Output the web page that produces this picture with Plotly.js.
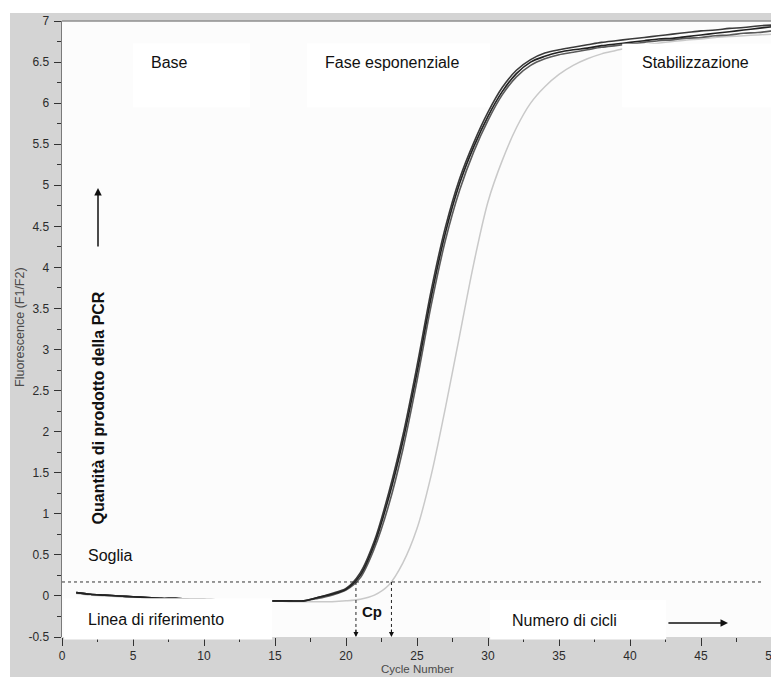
<!DOCTYPE html>
<html>
<head>
<meta charset="utf-8">
<script src="https://cdn.plot.ly/plotly-3.0.1.min.js"></script>
<style>
  html, body { margin: 0; padding: 0; background: #ffffff; overflow: hidden; width: 771px; height: 677px; }
  #chart { position: absolute; left: 10px; top: 13px; width: 780px; height: 664px; }
</style>
</head>
<body>
<div id="chart"></div>
<script>
// Real-time PCR amplification curves: fluorescence (F1/F2) per cycle
const cycles = [1,2,3,4,5,6,7,8,9,10,11,12,13,14,15,16,17,18,19,20,21,22,23,24,25,
                26,27,28,29,30,31,32,33,34,35,36,37,38,39,40,41,42,43,44,45,46,47,48,49,50];

// Early sample (three replicates, dark curves)
const sampleA = [0.04,0.02,0.01,0.00,-0.01,-0.02,-0.03,-0.03,-0.04,-0.04,-0.05,-0.05,-0.05,-0.06,-0.06,-0.06,-0.06,-0.02,0.02,0.08,
                 0.25,0.63,1.19,1.88,2.72,3.64,4.42,5.02,5.47,5.84,6.14,6.36,6.50,6.57,6.62,6.65,6.67,6.70,6.72,6.74,
                 6.76,6.78,6.79,6.81,6.83,6.85,6.87,6.89,6.91,6.93];
const sampleB = [0.04,0.02,0.01,0.00,-0.01,-0.02,-0.03,-0.03,-0.04,-0.04,-0.05,-0.05,-0.05,-0.06,-0.06,-0.06,-0.06,-0.03,0.01,0.07,
                 0.22,0.58,1.10,1.78,2.62,3.54,4.33,4.94,5.41,5.79,6.10,6.32,6.46,6.54,6.59,6.62,6.65,6.68,6.70,6.72,
                 6.74,6.76,6.77,6.79,6.80,6.82,6.83,6.85,6.86,6.88];
const sampleC = [0.04,0.02,0.01,0.00,-0.01,-0.02,-0.03,-0.03,-0.04,-0.04,-0.05,-0.05,-0.05,-0.06,-0.06,-0.06,-0.06,-0.02,0.03,0.09,
                 0.28,0.67,1.25,1.95,2.80,3.72,4.49,5.08,5.52,5.89,6.19,6.40,6.53,6.61,6.65,6.68,6.71,6.74,6.76,6.78,
                 6.80,6.82,6.84,6.86,6.88,6.89,6.91,6.92,6.94,6.95];
// Later sample (light curve)
const sampleLate = [0.03,0.01,0.00,-0.01,-0.02,-0.03,-0.03,-0.04,-0.04,-0.05,-0.05,-0.05,-0.06,-0.06,-0.06,-0.07,-0.07,-0.07,-0.07,-0.06,
                    -0.04,0.01,0.13,0.40,0.82,1.47,2.29,3.17,4.05,4.80,5.30,5.70,6.00,6.20,6.35,6.46,6.54,6.60,6.64,6.68,
                    6.71,6.73,6.75,6.77,6.78,6.80,6.81,6.82,6.83,6.84];

// Detection threshold and crossing points (Cp)
const threshold = 0.17;
const thresholdEnd = 49.4;
const cpCycles = [20.7, 23.2];

const xTickVals = [0,5,10,15,20,25,30,35,40,45,50];
const xTickText = ['0','5','10','15','20','25','30','35','40','45','50'];
const yTickVals = [-0.5,0,0.5,1,1.5,2,2.5,3,3.5,4,4.5,5,5.5,6,6.5,7];
const yTickText = ['-0.5','0','0.5','1','1.5','2','2.5','3','3.5','4','4.5','5','5.5','6','6.5','7'];

const FONT = 'Liberation Sans, Arial, Helvetica, sans-serif';

function curve(y, color, width) {
  return {
    x: cycles, y: y, type: 'scatter', mode: 'lines',
    line: { color: color, width: width, shape: 'spline', smoothing: 0.9 },
    hoverinfo: 'skip', showlegend: false
  };
}

const traces = [
  curve(sampleLate, '#c9c9c9', 1.5),
  curve(sampleB, '#5a5a5a', 1.6),
  curve(sampleC, '#3a3a3a', 1.6),
  curve(sampleA, '#222222', 1.6)
];

// paper-space white label panels
function panel(x0, x1, y0, y1, layer) {
  return { type: 'rect', xref: 'paper', yref: 'paper', x0: x0, x1: x1, y0: y0, y1: y1,
           fillcolor: '#ffffff', line: { width: 0 }, layer: layer };
}

const shapes = [
  panel(0.100, 0.265, 0.860, 0.964, 'below'),
  panel(0.345, 0.603, 0.860, 0.964, 'below'),
  panel(0.789, 1.000, 0.860, 0.963, 'above'),
  panel(0.003, 0.296, -0.004, 0.063, 'above'),
  panel(0.603, 0.851, -0.004, 0.060, 'above'),
  // frame top edge
  { type: 'line', xref: 'paper', yref: 'paper', x0: 0, x1: 1, y0: 1, y1: 1,
    line: { color: '#8f8f8f', width: 1.5 } },
  // threshold
  { type: 'line', xref: 'x', yref: 'y', x0: 0, x1: thresholdEnd, y0: threshold, y1: threshold,
    line: { color: '#333333', width: 1, dash: 'dot' } }
];
cpCycles.forEach(function (c) {
  shapes.push({ type: 'line', xref: 'x', yref: 'y', x0: c, x1: c, y0: threshold, y1: -0.45,
                line: { color: '#222222', width: 1, dash: 'dot' } });
});

function label(text, x, y, opts) {
  return Object.assign({ text: text, x: x, y: y, xref: 'paper', yref: 'paper', showarrow: false,
                         xanchor: 'center', yanchor: 'middle',
                         font: { family: FONT, size: 16, color: '#111111' } }, opts || {});
}

const annotations = [
  label('Base', 0.152, 0.932),
  label('Fase esponenziale', 0.465, 0.932),
  label('Stabilizzazione', 0.892, 0.932),
  label('Soglia', 0.0338, 0.133, { xanchor: 'left' }),
  label('Linea di riferimento', 0.0338, 0.029, { xanchor: 'left' }),
  label('Numero di cicli', 0.631, 0.026, { xanchor: 'left' }),
  label('<b>Cp</b>', 0.437, 0.041, { font: { family: FONT, size: 15, color: '#111111' } }),
  label('<b>Quantità di prodotto della PCR</b>', 0.0507, 0.3726, { textangle: -90 }),
  label('Fluorescence (F1/F2)', -0.059, 0.502,
        { textangle: -90, font: { family: FONT, size: 12.5, color: '#4a4a4a' } }),
  label('Cycle Number', 0.5, -0.0525, { font: { family: FONT, size: 11.5, color: '#4a4a4a' } }),
  // direction arrows
  { x: 2.535, y: 4.967, ax: 2.535, ay: 4.236, xref: 'x', yref: 'y', axref: 'x', ayref: 'y',
    text: '', showarrow: true, arrowhead: 2, arrowsize: 1, arrowwidth: 1.5, arrowcolor: '#111111' },
  { x: 46.9, y: -0.33, ax: 42.6, ay: -0.33, xref: 'x', yref: 'y', axref: 'x', ayref: 'y',
    text: '', showarrow: true, arrowhead: 2, arrowsize: 1, arrowwidth: 1.5, arrowcolor: '#111111' }
];
cpCycles.forEach(function (c) {
  annotations.push({ x: c, y: -0.5, xref: 'x', yref: 'y', ax: 0, ay: -9, text: '',
                     showarrow: true, arrowhead: 2, arrowsize: 1, arrowwidth: 1, arrowcolor: '#111111', standoff: 0 });
});

const tickFont = { family: FONT, size: 12, color: '#2b2b2b' };

const layout = {
  width: 780, height: 664,
  margin: { l: 52, r: 18, t: 8, b: 40, pad: 0 },
  paper_bgcolor: '#d4d4d4',
  plot_bgcolor: '#fcfcfc',
  showlegend: false,
  xaxis: {
    range: [0, 50], tickmode: 'array', tickvals: xTickVals, ticktext: xTickText,
    ticks: 'outside', ticklen: 8, tickwidth: 1, tickcolor: '#333333',
    minor: { ticks: 'outside', tickmode: 'linear', tick0: 0, dtick: 2.5, ticklen: 4, tickwidth: 1, tickcolor: '#333333', showgrid: false },
    showline: false, showgrid: false, zeroline: false, tickfont: tickFont, ticklabelstandoff: 0, fixedrange: true
  },
  yaxis: {
    range: [-0.5, 7], tickmode: 'array', tickvals: yTickVals, ticktext: yTickText,
    ticks: 'outside', ticklen: 7, tickwidth: 1, tickcolor: '#333333',
    minor: { ticks: 'outside', tickmode: 'linear', tick0: 0, dtick: 0.25, ticklen: 4, tickwidth: 1, tickcolor: '#333333', showgrid: false },
    showline: true, linecolor: '#7a7a7a', linewidth: 1.5,
    showgrid: false, zeroline: false, tickfont: tickFont, ticklabelstandoff: 2, fixedrange: true
  },
  shapes: shapes,
  annotations: annotations
};

Plotly.newPlot('chart', traces, layout, { displayModeBar: false, staticPlot: true });
</script>
</body>
</html>
